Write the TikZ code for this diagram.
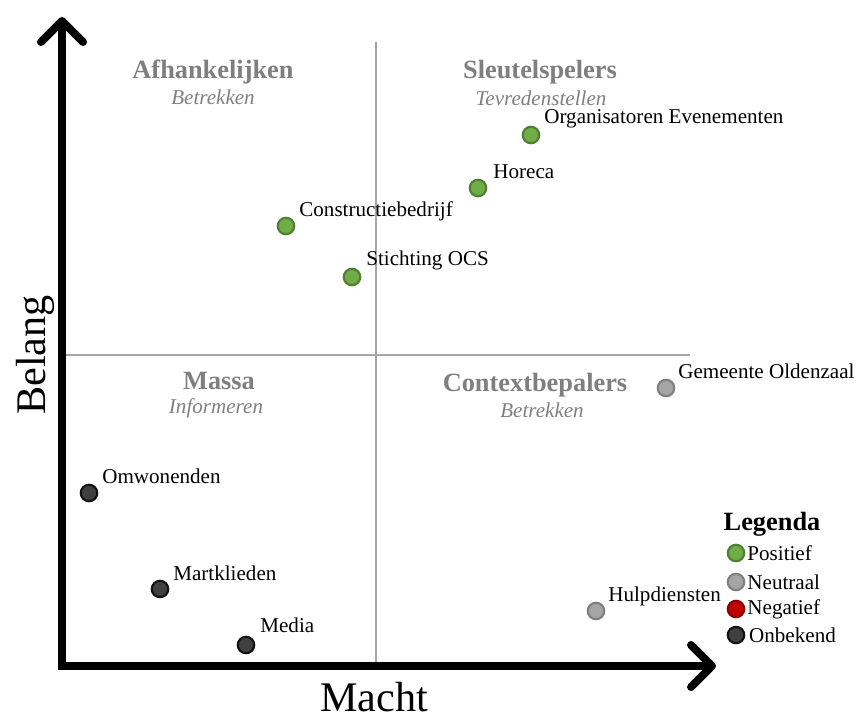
\documentclass[tikz,border=0pt]{standalone}
\usepackage{fontspec}
\setmainfont{Liberation Serif}
\usetikzlibrary{arrows.meta}

\definecolor{posfill}{HTML}{70AD47}
\definecolor{posline}{HTML}{507E32}
\definecolor{neufill}{HTML}{A5A5A5}
\definecolor{neuline}{HTML}{7F7F7F}
\definecolor{negfill}{HTML}{C00000}
\definecolor{negline}{HTML}{8B0000}
\definecolor{unkfill}{HTML}{404040}
\definecolor{unkline}{HTML}{111111}
\definecolor{quadgray}{HTML}{7F7F7F}
\definecolor{splitgray}{HTML}{A6A6A6}

\tikzset{
  dot/.style={circle,draw,line width=1.2pt,minimum size=9.4pt,inner sep=0pt},
  positief/.style={dot,fill=posfill,draw=posline},
  neutraal/.style={dot,fill=neufill,draw=neuline},
  negatief/.style={dot,fill=negfill,draw=negline},
  onbekend/.style={dot,fill=unkfill,draw=unkline},
  stake/.style={anchor=base west,inner sep=0pt,font=\fontsize{12}{14}\selectfont},
  legitem/.style={anchor=west,inner sep=1pt,font=\fontsize{12}{14}\selectfont},
  quadtitle/.style={text=quadgray,font=\bfseries\fontsize{15}{17}\selectfont},
  quadsub/.style={text=quadgray,font=\itshape\fontsize{12}{14}\selectfont},
  axisname/.style={font=\fontsize{24}{28}\selectfont},
}

\begin{document}
\begin{tikzpicture}[x=0.02cm,y=-0.02cm]
  \useasboundingbox (0,0) rectangle (868,720);

  % quadrant split
  \draw[splitgray,line width=1.4pt] (376,42) -- (376,666);
  \draw[splitgray,line width=1.4pt] (62,355) -- (690,355);

  % axes
  \draw[line width=4.5pt,
        {Straight Barb[length=12pt,width=24pt,round]}-{Straight Barb[length=12pt,width=24pt,round]}]
        (62,17) -- (62,666) -- (716,666);
  \node[axisname,rotate=90] (belang) at (35,355) {Belang};
  \node[axisname,anchor=base,inner sep=0pt,text depth=0pt] (macht) at (374,711) {Macht};

  % quadrants
  \node[quadtitle] (afh) at (213,72) {Afhankelijken};
  \node[quadsub] (afhsub) at (213,97) {Betrekken};
  \node[quadtitle] (sleutel) at (540,72) {Sleutelspelers};
  \node[quadsub] (sleutelsub) at (541,98) {Tevredenstellen};
  \node[quadtitle] (massa) at (219,381) {Massa};
  \node[quadsub] (massasub) at (216,408) {Informeren};
  \node[quadtitle] (context) at (535,385) {Contextbepalers};
  \node[quadsub] (contextsub) at (542,410) {Betrekken};

  % stakeholders
  \node[positief] (org) at (531,135) {};
  \node[stake] (orgl) at ([shift={(13,-12)}]org) {Organisatoren Evenementen};
  \node[positief] (horeca) at (478,188) {};
  \node[stake] (horecal) at ([shift={(15,-10)}]horeca) {Horeca};
  \node[positief] (constr) at (286,226) {};
  \node[stake] (constrl) at ([shift={(13,-10)}]constr) {Constructiebedrijf};
  \node[positief] (ocs) at (352,277) {};
  \node[stake] (ocsl) at ([shift={(14,-12)}]ocs) {Stichting OCS};
  \node[neutraal] (gemeente) at (666,388) {};
  \node[stake] (gemeentel) at ([shift={(12,-10)}]gemeente) {Gemeente Oldenzaal};
  \node[neutraal] (hulp) at (596,611) {};
  \node[stake] (hulpl) at ([shift={(12,-10)}]hulp) {Hulpdiensten};
  \node[onbekend] (omw) at (89,493) {};
  \node[stake] (omwl) at ([shift={(13,-10)}]omw) {Omwonenden};
  \node[onbekend] (markt) at (160,589) {};
  \node[stake] (marktl) at ([shift={(13,-9)}]markt) {Martklieden};
  \node[onbekend] (media) at (246,645) {};
  \node[stake] (medial) at ([shift={(14,-13)}]media) {Media};

  % legend
  \node[font=\bfseries\fontsize{15}{17}\selectfont] (legenda) at (772,524) {Legenda};
  \node[positief] (lpos) at (736,553) {};
  \node[legitem] (lposl) at (lpos.east) {Positief};
  \node[neutraal] (lneu) at (736,582) {};
  \node[legitem] (lneul) at (lneu.east) {Neutraal};
  \node[negatief] (lneg) at (736,609) {};
  \node[legitem] (lnegl) at (lneg.east) {Negatief};
  \node[onbekend] (lunk) at (736,635) {};
  \node[legitem,inner sep=2pt] (lunkl) at (lunk.east) {Onbekend};
\end{tikzpicture}
\end{document}
